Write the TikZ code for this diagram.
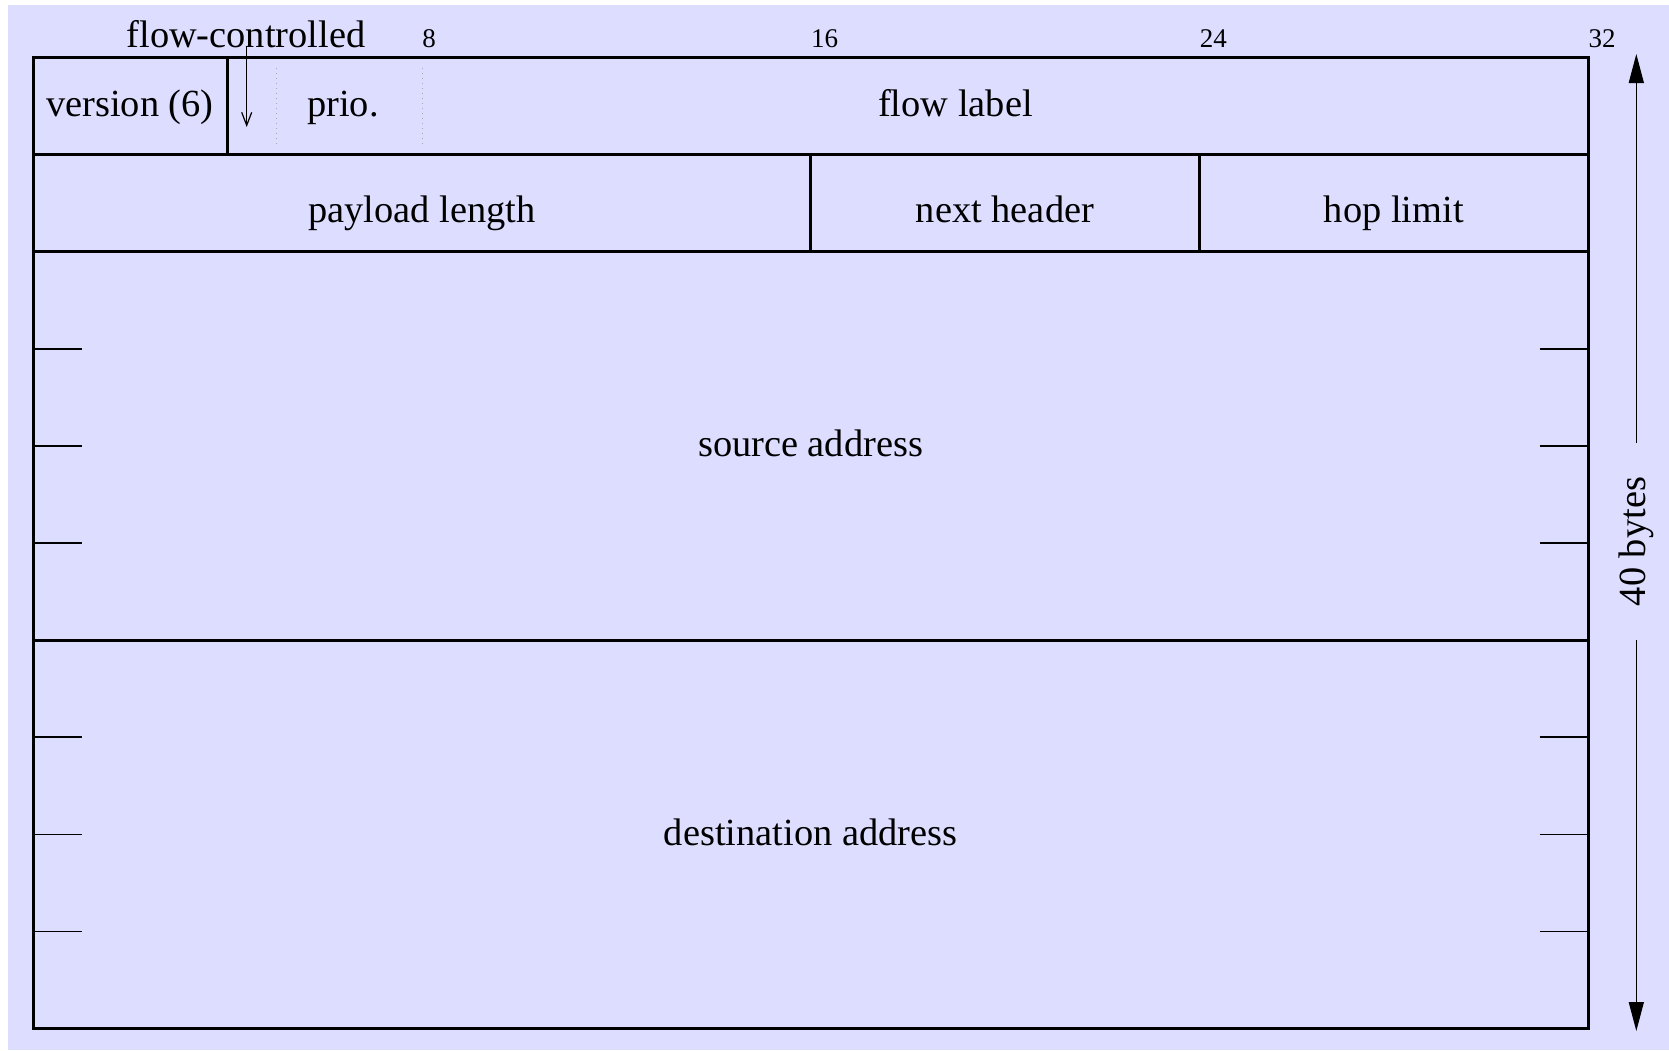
\documentclass[tikz,border=0pt]{standalone}
\usepackage{fontspec}
\setmainfont{Liberation Serif}
\usetikzlibrary{arrows.meta}
\definecolor{bg}{HTML}{DDDDFF}
\begin{document}
\begin{tikzpicture}[x=0.5pt,y=-0.5pt,
  frame/.style={line width=1.5pt},
  ticks/.style={line width=0.75pt},
  field/.style={font=\fontsize{19.2}{22}\selectfont, inner sep=0pt, anchor=base},
  bitnum/.style={font=\fontsize{13.5}{16}\selectfont, inner sep=0pt, anchor=base west},
  subsep/.style={dotted, black!35, line width=0.5pt},
  smallarrow/.style={-{Straight Barb[length=6.5pt,width=5pt]}, line width=0.6pt},
  bigarrow/.style={-{Triangle[length=14.5pt,width=7.5pt]}, line width=0.7pt}]
\useasboundingbox (0,0) rectangle (1669,1050);
\fill[bg] (8,5) rectangle (1669,1050);
% frame and field boundaries
\draw[frame] (33,57.5) rectangle (1588.2,1028.5);
\draw[frame] (33,154.6) -- (1588.2,154.6);
\draw[frame] (33,251.7) -- (1588.2,251.7);
\draw[frame] (33,640.1) -- (1588.2,640.1);
\draw[frame] (227.4,57.5) -- (227.4,154.6);
\draw[frame] (810.6,154.6) -- (810.6,251.7);
\draw[frame] (1199.4,154.6) -- (1199.4,251.7);
% dotted sub-field separators
\draw[subsep] (276,68) -- (276,147);
\draw[subsep] (422,68) -- (422,147);
% word ticks
\foreach \y in {348.8,445.9,543.0,737.2,834.3,931.4}{
  \draw[ticks] (33,\y) -- (81.6,\y);
  \draw[ticks] (1539.6,\y) -- (1588.2,\y);
}
% bit numbers
\node[bitnum] (b8) at (422,47) {8};
\node[bitnum] (b16) at (810.6,47) {16};
\node[bitnum] (b24) at (1199.4,47) {24};
\node[bitnum] (b32) at (1588.2,47) {32};
% field labels
\node[field] (version) at (130,116.5) {version (6)};
\node[field] (prio) at (343,116.5) {prio.};
\node[field] (flowlabel) at (955.5,116.5) {flow label};
\node[field] (payload) at (421.8,222.5) {payload length};
\node[field] (nexthdr) at (1005,222.5) {next header};
\node[field] (hoplimit) at (1393.8,222.5) {hop limit};
\node[field] (src) at (810.6,456.5) {source address};
\node[field] (dst) at (810.6,845.5) {destination address};
% flow-controlled marker
\node[field] (fc) at (246,47) {flow-controlled};
\coordinate (fcend) at (246.7,127);
\draw[smallarrow] (fc.base -| fcend) -- (fcend);
% total length
\node[field, anchor=center, rotate=90, inner xsep=17pt] (len) at (1636.3,541.5) {40 bytes};
\coordinate (lentop) at (1636.3,54);
\coordinate (lenbot) at (1636.3,1031);
\draw[bigarrow] (len.east) -- (lentop);
\draw[bigarrow] (len.west) -- (lenbot);
\end{tikzpicture}
\end{document}
